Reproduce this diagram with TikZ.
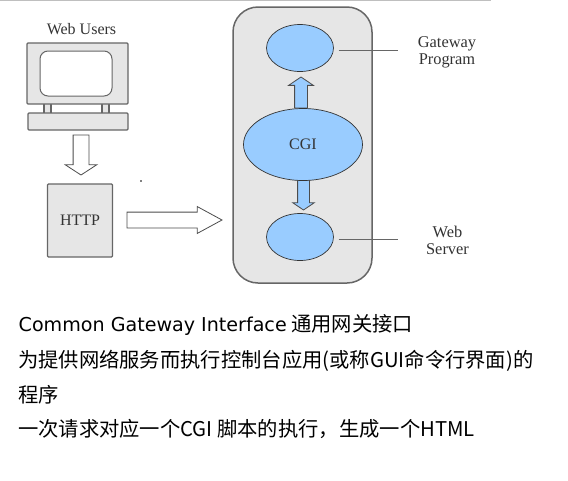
\documentclass[tikz,border=0pt]{standalone}
\usepackage{fontspec}
\setmainfont{Liberation Serif}
\newfontfamily\latinfont{DejaVu Sans}
\newfontfamily\cjkfont{Noto Sans CJK SC}
\usetikzlibrary{shapes.geometric,shapes.arrows}
\definecolor{boxgray}{HTML}{E6E6E6}
\definecolor{edgegray}{HTML}{666666}
\definecolor{bubble}{HTML}{99CCFF}
\definecolor{labeltext}{HTML}{333333}
\tikzset{
	graybox/.style={draw=edgegray,line width=1.2,fill=boxgray,inner sep=0,outer sep=0},
	bubblenode/.style={ellipse,draw=black!80,line width=.7,fill=bubble,inner sep=0,outer sep=0,text=labeltext},
	blockarrow/.style={single arrow,draw=black!70,line width=.8,inner sep=0,outer sep=0,single arrow head indent=0,anchor=tip},
	difftext/.style={text=labeltext,font=\fontsize{16}{18}\selectfont,align=center},
	bodytext/.style={anchor=base west,inner sep=0,font=\fontsize{20.3}{24}\cjkfont},
	leader/.style={draw=edgegray,line width=1},
}
\begin{document}
\begin{tikzpicture}[x=1pt,y=-1pt]
	\useasboundingbox (0,0) rectangle (568,480);
	\draw[black!25,line width=1] (0,0.5)--(491,0.5);
	% web users
	\node[difftext] (users) at (81.5,29.5) {Web Users};
	\node[graybox,minimum width=7,minimum height=10] (neckl) at (47.5,108.5) {};
	\node[graybox,minimum width=7,minimum height=10] (neckr) at (105.5,108.5) {};
	\node[graybox,minimum width=101,minimum height=61,rounded corners=1] (monitor) at (77.5,73.5) {};
	\node[graybox,minimum width=72,minimum height=45,rounded corners=8,fill=white,line width=1] (screen) at (76,73.5) {};
	\node[graybox,minimum width=100,minimum height=17,rounded corners=1] (keyboard) at (78,121.5) {};
	\node[blockarrow,fill=white,inner xsep=7.5,minimum height=40,single arrow head extend=8,single arrow tip angle=114,shape border rotate=270] (usersdown) at (81,175) {};
	\node[graybox,minimum width=65,minimum height=73,rounded corners=1,text=labeltext,font=\fontsize{16}{18}\selectfont] (http) at (80,220.5) {HTTP};
	\node[blockarrow,fill=white,inner ysep=7.5,minimum height=95,single arrow head extend=5.5,single arrow tip angle=57] (httpright) at (222,220) {};
	\fill (141,181) circle (.8);
	% gateway box
	\node[graybox,line width=1.5,minimum width=139,minimum height=276,rounded corners=25] (gateway) at (302.5,145) {};
	\node[blockarrow,fill=bubble,inner xsep=6,minimum height=31,single arrow head extend=6,single arrow tip angle=112,shape border rotate=90] (cgiup) at (301,77) {};
	\node[blockarrow,fill=bubble,inner xsep=5.5,minimum height=30,single arrow head extend=5,single arrow tip angle=112,shape border rotate=270] (cgidown) at (303.5,210) {};
	\node[bubblenode,minimum width=67,minimum height=47] (program) at (300,48) {};
	\node[bubblenode,minimum width=119,minimum height=72,font=\fontsize{16}{18}\selectfont] (cgi) at (303,144.5) {CGI};
	\node[bubblenode,minimum width=67,minimum height=47] (server) at (300,237) {};
	\node[difftext,text width=70,font=\fontsize{16.4}{18}\selectfont] (programtext) at (447,52) {Gateway\\[-1pt]Program};
	\node[difftext,text width=70,font=\fontsize{16.4}{18}\selectfont] (servertext) at (447.5,240) {Web\\[-1pt]Server};
	\coordinate (programend) at (398,50);
	\coordinate (serverend) at (398,239);
	\draw[leader] ([xshift=5,yshift=-2]program.east)--(programend);
	\draw[leader] ([xshift=5,yshift=-2]server.east)--(serverend);
	% text below
	\node[bodytext] (line1) at (18.5,331) {{\fontsize{19.1}{24}\latinfont Common Gateway Interface} 通用网关接口};
	\node[bodytext] (line2) at (18,367) {为提供网络服务而执行控制台应用(或称GUI命令行界面)的};
	\node[bodytext] (line3) at (18,402) {程序};
	\node[bodytext] (line4) at (18,436) {一次请求对应一个CGI 脚本的执行，生成一个HTML};
\end{tikzpicture}
\end{document}
